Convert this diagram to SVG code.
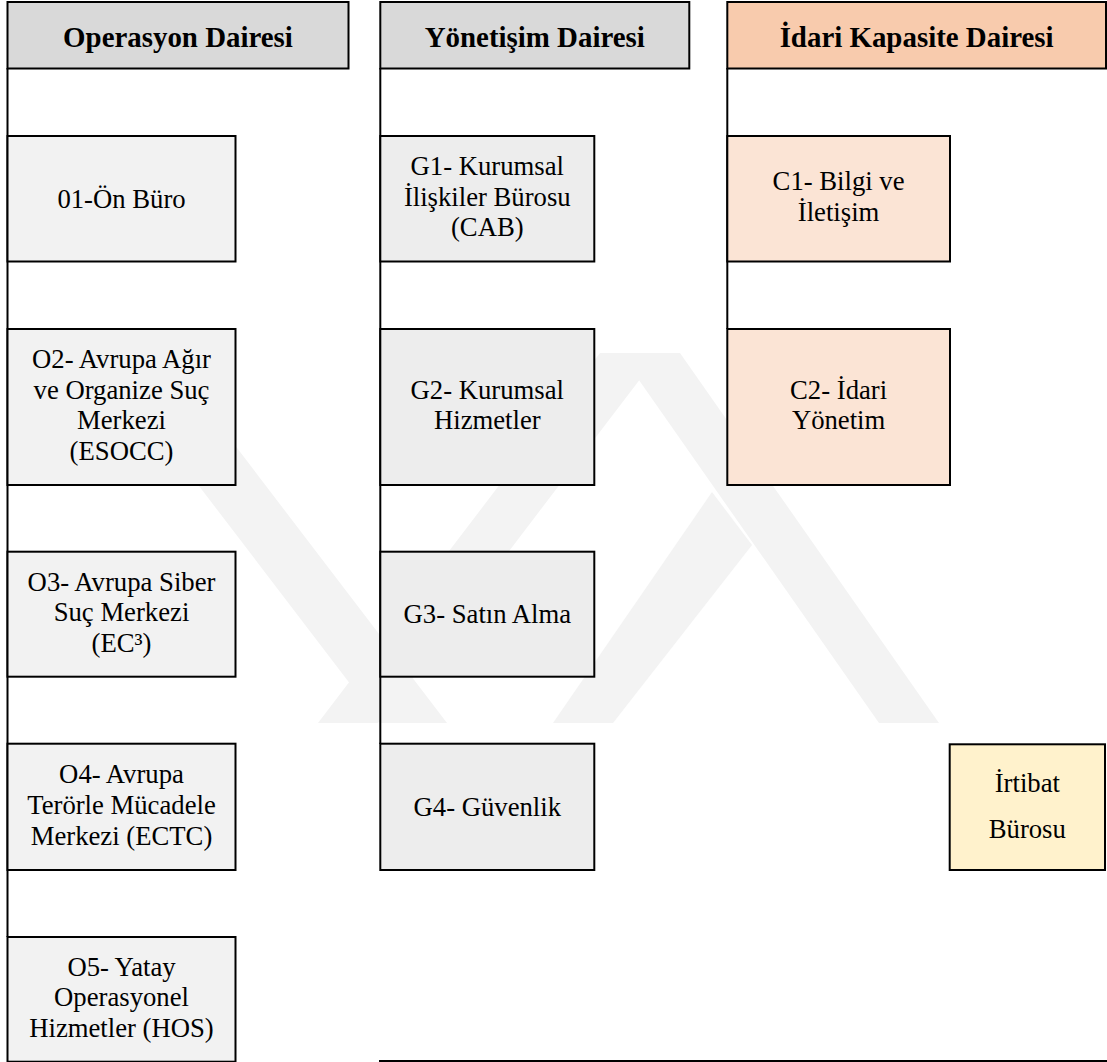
<svg xmlns="http://www.w3.org/2000/svg" width="1107" height="1062" viewBox="0 0 1107 1062">
<style>
.bx{stroke:#000;stroke-width:2}
.hd{fill:#d9d9d9}
.hdc{fill:#f8cbad}
.o{fill:#f2f2f2}
.g{fill:#ededed}
.c{fill:#fbe4d5}
.y{fill:#fff2cc}
.ln{stroke:#000;stroke-width:2;fill:none}
.wm{fill:#f3f3f3}
.h{font-size:28.9px;font-weight:bold}
.t{font-size:26.7px}
</style>
<rect width="1107" height="1062" fill="#fff"/>
<g id="watermark">
<polygon class="wm" points="99,355 166,355 447,723 380,723"/>
<polygon class="wm" points="600,353 660,353 378,723 318,723"/>
<polygon class="wm" points="620,353 680,353 939,723 879,723"/>
<polygon class="wm" points="712,492 752,545 613,723 553,723"/>
</g>
<g id="connectors">
<line class="ln" x1="7.5" y1="68" x2="7.5" y2="937"/>
<line class="ln" x1="380.3" y1="68" x2="380.3" y2="744"/>
<line class="ln" x1="727.3" y1="68" x2="727.3" y2="329"/>
<line class="ln" x1="379" y1="1061" x2="1107" y2="1061"/>
</g>
<g font-family="Liberation Serif, Tinos, Times New Roman, DejaVu Serif, serif" text-anchor="middle" fill="#000">
<g id="h-operasyon">
<rect class="bx hd" x="7.5" y="2" width="341" height="66.5"/>
<text class="h" x="178" y="47">Operasyon Dairesi</text>
</g>
<g id="h-yonetisim">
<rect class="bx hd" x="380.3" y="2" width="309" height="66.5"/>
<text class="h" x="534.8" y="47">Yönetişim Dairesi</text>
</g>
<g id="h-idari">
<rect class="bx hdc" x="727.3" y="2" width="378.7" height="66.5"/>
<text class="h" x="916.6" y="47">İdari Kapasite Dairesi</text>
</g>
<g id="o1">
<rect class="bx o" x="7.5" y="136" width="228" height="125.5"/>
<text class="t" x="121.5" y="207.7">01-Ön Büro</text>
</g>
<g id="o2">
<rect class="bx o" x="7.5" y="329" width="228" height="156"/>
<text class="t" x="121.5" y="368">O2- Avrupa Ağır</text>
<text class="t" x="121.5" y="398.7">ve Organize Suç</text>
<text class="t" x="121.5" y="429.4">Merkezi</text>
<text class="t" x="121.5" y="460">(ESOCC)</text>
</g>
<g id="o3">
<rect class="bx o" x="7.5" y="551.7" width="228" height="125"/>
<text class="t" x="121.5" y="590.5">O3- Avrupa Siber</text>
<text class="t" x="121.5" y="621.2">Suç Merkezi</text>
<text class="t" x="121.5" y="651.9">(EC³)</text>
</g>
<g id="o4">
<rect class="bx o" x="7.5" y="743.7" width="228" height="126.3"/>
<text class="t" x="121.5" y="783">O4- Avrupa</text>
<text class="t" x="121.5" y="813.8">Terörle Mücadele</text>
<text class="t" x="121.5" y="844.5">Merkezi (ECTC)</text>
</g>
<g id="o5">
<rect class="bx o" x="7.5" y="937" width="228" height="124.7"/>
<text class="t" x="121.5" y="975.6">O5- Yatay</text>
<text class="t" x="121.5" y="1006.3">Operasyonel</text>
<text class="t" x="121.5" y="1037">Hizmetler (HOS)</text>
</g>
<g id="g1">
<rect class="bx g" x="380.3" y="136" width="214" height="125.5"/>
<text class="t" x="487.3" y="175">G1- Kurumsal</text>
<text class="t" x="487.3" y="205.7">İlişkiler Bürosu</text>
<text class="t" x="487.3" y="236.4">(CAB)</text>
</g>
<g id="g2">
<rect class="bx g" x="380.3" y="329" width="214" height="156"/>
<text class="t" x="487.3" y="398.6">G2- Kurumsal</text>
<text class="t" x="487.3" y="429.4">Hizmetler</text>
</g>
<g id="g3">
<rect class="bx g" x="380.3" y="551.7" width="214" height="125"/>
<text class="t" x="487.3" y="623.2">G3- Satın Alma</text>
</g>
<g id="g4">
<rect class="bx g" x="380.3" y="743.7" width="214" height="126.3"/>
<text class="t" x="487.3" y="815.8">G4- Güvenlik</text>
</g>
<g id="c1">
<rect class="bx c" x="727.3" y="136" width="222.7" height="125.5"/>
<text class="t" x="838.6" y="190.4">C1- Bilgi ve</text>
<text class="t" x="838.6" y="221.1">İletişim</text>
</g>
<g id="c2">
<rect class="bx c" x="727.3" y="329" width="222.7" height="156"/>
<text class="t" x="838.6" y="398.6">C2- İdari</text>
<text class="t" x="838.6" y="429.4">Yönetim</text>
</g>
<g id="irtibat">
<rect class="bx y" x="949.7" y="744.3" width="155.3" height="125.7"/>
<text class="t" x="1027.3" y="791.5">İrtibat</text>
<text class="t" x="1027.3" y="838">Bürosu</text>
</g>
</g>
</svg>
